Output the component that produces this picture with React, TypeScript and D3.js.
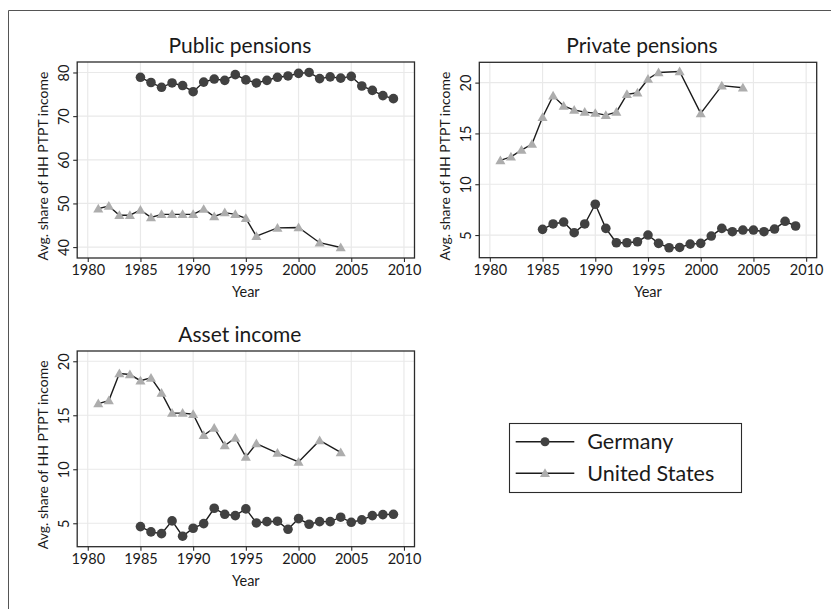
import { useEffect, useRef } from 'react'
import * as d3 from 'd3'

const W = 831
const H = 609
const FONT = 'Lato, "Open Sans", sans-serif'

// years
const deYears = [1985, 1986, 1987, 1988, 1989, 1990, 1991, 1992, 1993, 1994, 1995, 1996, 1997, 1998, 1999, 2000, 2001, 2002, 2003, 2004, 2005, 2006, 2007, 2008, 2009]
const usYears = [1981, 1982, 1983, 1984, 1985, 1986, 1987, 1988, 1989, 1990, 1991, 1992, 1993, 1994, 1995, 1996, 1998, 2000, 2002, 2004]
const xTicks = [1980, 1985, 1990, 1995, 2000, 2005, 2010]

// Public pensions
const publicDE = [78.9, 77.7, 76.6, 77.6, 77.0, 75.6, 77.8, 78.5, 78.2, 79.5, 78.3, 77.6, 78.2, 78.9, 79.2, 79.8, 80.0, 78.6, 79.0, 78.7, 79.1, 76.9, 75.9, 74.7, 74.0]
const publicUS = [48.8, 49.4, 47.3, 47.3, 48.5, 46.8, 47.5, 47.5, 47.5, 47.5, 48.7, 47.0, 47.9, 47.5, 46.6, 42.5, 44.4, 44.5, 41.0, 39.9]
const publicTicks = [40, 50, 60, 70, 80]

// Private pensions
const privateDE = [5.56, 6.09, 6.28, 5.23, 6.09, 8.03, 5.66, 4.24, 4.24, 4.34, 5.0, 4.18, 3.75, 3.78, 4.11, 4.18, 4.9, 5.66, 5.33, 5.49, 5.49, 5.33, 5.59, 6.35, 5.89]
const privateUS = [12.34, 12.7, 13.36, 13.95, 16.6, 18.7, 17.7, 17.3, 17.1, 17.0, 16.8, 17.1, 18.85, 19.0, 20.36, 21.0, 21.1, 16.97, 19.7, 19.5]
const privateTicks = [5, 10, 15, 20]

// Asset income
const assetDE = [4.69, 4.2, 4.04, 5.22, 3.8, 4.54, 4.97, 6.39, 5.83, 5.71, 6.33, 5.03, 5.15, 5.19, 4.44, 5.43, 4.91, 5.15, 5.15, 5.56, 5.09, 5.31, 5.71, 5.8, 5.83]
const assetUS = [16.08, 16.36, 18.86, 18.77, 18.2, 18.46, 17.07, 15.2, 15.2, 15.1, 13.15, 13.83, 12.2, 12.9, 11.14, 12.38, 11.5, 10.68, 12.67, 11.56]
const assetTicks = [5, 10, 15, 20]

const DE_COLOR = '#414141'
const US_COLOR = '#adadad'
const LINE_COLOR = '#1c1c1c'
const GRID_COLOR = '#e9e9e9'
const AXIS_COLOR = '#2b2b2b'
const TEXT_COLOR = '#1a1a1a'

const panels = [
  { title: 'Public pensions', x0: 77.2, x1: 414.5, y0: 62, y1: 258, yDomain: [37.5, 82.4], yTicks: publicTicks, de: publicDE, us: publicUS },
  { title: 'Private pensions', x0: 479.3, x1: 816.7, y0: 62.3, y1: 257.7, yDomain: [2.77, 22.0], yTicks: privateTicks, de: privateDE, us: privateUS },
  { title: 'Asset income', x0: 77.2, x1: 414.5, y0: 351, y1: 546.7, yDomain: [2.83, 20.95], yTicks: assetTicks, de: assetDE, us: assetUS },
]

const triangle = d3.symbol().type(d3.symbolTriangle).size(44)
const triShift = Math.sqrt(44 / (3 * Math.sqrt(3) / 4)) * Math.sqrt(3) / 2 / 6

export default function App() {
  const svgRef = useRef<SVGSVGElement>(null)

  useEffect(() => {
    if (!svgRef.current) return
    const svg = d3.select(svgRef.current)
    svg.selectAll('*').remove()

    svg.append('rect').attr('width', W).attr('height', H).attr('fill', '#fff')

    // outer frame (top and left edges only visible)
    svg.append('path')
      .attr('d', `M8.5,${H} L8.5,10.5 L${W},10.5`)
      .attr('fill', 'none')
      .attr('stroke', '#555')
      .attr('stroke-width', 1)

    panels.forEach(p => {
      const x = d3.scaleLinear().domain([1979, 2011]).range([p.x0, p.x1])
      const y = d3.scaleLinear().domain(p.yDomain).range([p.y1, p.y0])
      const g = svg.append('g')

      // grid
      g.selectAll('.gx')
        .data(xTicks)
        .enter()
        .append('line')
        .attr('x1', d => x(d)).attr('x2', d => x(d))
        .attr('y1', p.y0).attr('y2', p.y1)
        .attr('stroke', GRID_COLOR).attr('stroke-width', 1.2)
      g.selectAll('.gy')
        .data(p.yTicks)
        .enter()
        .append('line')
        .attr('x1', p.x0).attr('x2', p.x1)
        .attr('y1', d => y(d)).attr('y2', d => y(d))
        .attr('stroke', GRID_COLOR).attr('stroke-width', 1.2)

      // plot frame
      g.append('rect')
        .attr('x', p.x0).attr('y', p.y0)
        .attr('width', p.x1 - p.x0).attr('height', p.y1 - p.y0)
        .attr('fill', 'none')
        .attr('stroke', AXIS_COLOR).attr('stroke-width', 1.3)

      // x axis
      const xAxis = g.append('g')
        .attr('transform', `translate(0,${p.y1})`)
        .call(d3.axisBottom(x).tickValues(xTicks).tickSize(4).tickPadding(3).tickFormat(d3.format('d')))
      xAxis.select('.domain').remove()
      xAxis.selectAll('line').attr('stroke', AXIS_COLOR).attr('stroke-width', 1.1)
      xAxis.selectAll('text')
        .attr('fill', TEXT_COLOR)
        .attr('font-family', FONT)
        .attr('font-size', '14.5px')

      // y axis, labels rotated
      const yAxis = g.append('g')
        .attr('transform', `translate(${p.x0},0)`)
        .call(d3.axisLeft(y).tickValues(p.yTicks).tickSize(4).tickFormat(d3.format('d')))
      yAxis.select('.domain').remove()
      yAxis.selectAll('line').attr('stroke', AXIS_COLOR).attr('stroke-width', 1.1)
      yAxis.selectAll('text')
        .attr('fill', TEXT_COLOR)
        .attr('font-family', FONT)
        .attr('font-size', '14.5px')
        .attr('x', null)
        .attr('dy', null)
        .attr('text-anchor', 'middle')
        .attr('transform', 'translate(-8.5,0) rotate(-90)')

      // axis titles
      g.append('text')
        .attr('x', (p.x0 + p.x1) / 2)
        .attr('y', p.y1 + 39)
        .attr('text-anchor', 'middle')
        .attr('font-family', FONT)
        .attr('font-size', '14.5px')
        .attr('fill', TEXT_COLOR)
        .text('Year')
      g.append('text')
        .attr('transform', `translate(${p.x0 - 29},${(p.y0 + p.y1) / 2 + 6}) rotate(-90)`)
        .attr('text-anchor', 'middle')
        .attr('font-family', FONT)
        .attr('font-size', '14px')
        .attr('fill', TEXT_COLOR)
        .text('Avg. share of HH PTPT income')

      // panel title
      g.append('text')
        .attr('x', (p.x0 + p.x1) / 2 - 6)
        .attr('y', p.y0 - 9)
        .attr('text-anchor', 'middle')
        .attr('font-family', FONT)
        .attr('font-size', '21px')
        .attr('fill', TEXT_COLOR)
        .text(p.title)

      const line = d3.line<[number, number]>().x(d => x(d[0])).y(d => y(d[1]))
      const usPts = usYears.map((yr, i) => [yr, p.us[i]] as [number, number])
      const dePts = deYears.map((yr, i) => [yr, p.de[i]] as [number, number])

      g.append('path').attr('d', line(usPts)).attr('fill', 'none')
        .attr('stroke', LINE_COLOR).attr('stroke-width', 1.4)
      g.append('path').attr('d', line(dePts)).attr('fill', 'none')
        .attr('stroke', LINE_COLOR).attr('stroke-width', 1.4)

      g.selectAll('.us')
        .data(usPts)
        .enter()
        .append('path')
        .attr('d', triangle())
        .attr('transform', d => `translate(${x(d[0])},${y(d[1]) + triShift})`)
        .attr('fill', US_COLOR)
      g.selectAll('.de')
        .data(dePts)
        .enter()
        .append('circle')
        .attr('cx', d => x(d[0]))
        .attr('cy', d => y(d[1]))
        .attr('r', 4.8)
        .attr('fill', DE_COLOR)
    })

    // legend
    const lg = svg.append('g')
    lg.append('rect')
      .attr('x', 509.5).attr('y', 423.5)
      .attr('width', 232).attr('height', 69)
      .attr('fill', '#fff')
      .attr('stroke', AXIS_COLOR).attr('stroke-width', 1.1)
    const items = [
      { label: 'Germany', y: 441.7, kind: 'de' },
      { label: 'United States', y: 473.3, kind: 'us' },
    ]
    items.forEach(it => {
      lg.append('line')
        .attr('x1', 515.7).attr('x2', 574.3)
        .attr('y1', it.y).attr('y2', it.y)
        .attr('stroke', LINE_COLOR).attr('stroke-width', 1.4)
      if (it.kind === 'de') {
        lg.append('circle').attr('cx', 545).attr('cy', it.y).attr('r', 4.5).attr('fill', DE_COLOR)
      } else {
        lg.append('path').attr('d', triangle())
          .attr('transform', `translate(545,${it.y + triShift})`)
          .attr('fill', US_COLOR)
      }
      lg.append('text')
        .attr('x', 587.3).attr('y', it.y)
        .attr('dy', '0.35em')
        .attr('font-family', FONT)
        .attr('font-size', '21.5px')
        .attr('fill', TEXT_COLOR)
        .text(it.label)
    })
  }, [])

  return (
    <svg
      ref={svgRef}
      width={W}
      height={H}
      style={{ position: 'absolute', left: 0, top: 0, display: 'block' }}
    />
  )
}
